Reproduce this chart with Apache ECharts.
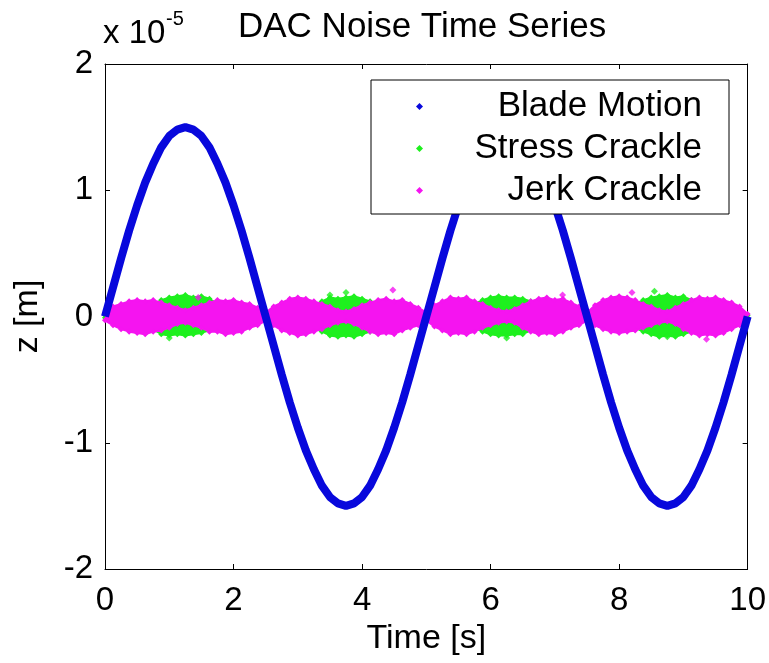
<!DOCTYPE html>
<html>
<head>
<meta charset="utf-8">
<title>DAC Noise Time Series</title>
<script src="https://cdn.jsdelivr.net/npm/echarts@6/dist/echarts.min.js"></script>
<style>
  html, body { margin: 0; padding: 0; background: #fff; }
  #chart { width: 769px; height: 663px; }
</style>
</head>
<body>
<div id="chart"></div>
<script>
// all z values in units of 1e-5 m, sampled every 0.125 s from 0 to 10 s
const time = Array.from({ length: 81 }, (_, i) => i * 0.125);

const bladeZ = [
  0, 0.23, 0.46, 0.68, 0.88, 1.06, 1.21, 1.34, 1.43, 1.48, 1.50, 1.48, 1.43, 1.34, 1.21, 1.06, 0.88, 0.68, 0.46, 0.23,
  0, -0.23, -0.46, -0.68, -0.88, -1.06, -1.21, -1.34, -1.43, -1.48, -1.50, -1.48, -1.43, -1.34, -1.21, -1.06, -0.88, -0.68, -0.46, -0.23,
  0, 0.23, 0.46, 0.68, 0.88, 1.06, 1.21, 1.34, 1.43, 1.48, 1.50, 1.48, 1.43, 1.34, 1.21, 1.06, 0.88, 0.68, 0.46, 0.23,
  0, -0.23, -0.46, -0.68, -0.88, -1.06, -1.21, -1.34, -1.43, -1.48, -1.50, -1.48, -1.43, -1.34, -1.21, -1.06, -0.88, -0.68, -0.46, -0.23,
  0
];

// envelope of the stress crackle cloud (top / bottom edge)
const stressUpper = [
  0.01, 0.02, 0.03, 0.04, 0.05, 0.07, 0.09, 0.13, 0.15, 0.16, 0.17, 0.15, 0.16, 0.14, 0.10, 0.07, 0.05, 0.03, 0.02, 0.02,
  0.01, 0.02, 0.03, 0.04, 0.05, 0.07, 0.09, 0.12, 0.15, 0.14, 0.15, 0.16, 0.14, 0.12, 0.09, 0.06, 0.05, 0.04, 0.03, 0.02,
  0.01, 0.02, 0.03, 0.04, 0.05, 0.07, 0.10, 0.13, 0.15, 0.16, 0.15, 0.15, 0.14, 0.12, 0.09, 0.06, 0.05, 0.04, 0.03, 0.02,
  0.01, 0.02, 0.03, 0.04, 0.05, 0.07, 0.10, 0.13, 0.15, 0.16, 0.17, 0.15, 0.16, 0.13, 0.10, 0.07, 0.05, 0.04, 0.03, 0.02,
  0.01
];
const stressLower = [
  -0.01, -0.02, -0.03, -0.04, -0.05, -0.07, -0.10, -0.14, -0.15, -0.14, -0.15, -0.14, -0.13, -0.11, -0.08, -0.06, -0.04, -0.03, -0.02, -0.02,
  -0.01, -0.02, -0.03, -0.04, -0.05, -0.07, -0.09, -0.12, -0.15, -0.16, -0.15, -0.16, -0.14, -0.12, -0.09, -0.06, -0.05, -0.04, -0.03, -0.02,
  -0.01, -0.02, -0.03, -0.04, -0.05, -0.07, -0.09, -0.12, -0.14, -0.15, -0.15, -0.14, -0.14, -0.11, -0.08, -0.06, -0.05, -0.04, -0.03, -0.02,
  -0.01, -0.02, -0.03, -0.04, -0.05, -0.07, -0.09, -0.12, -0.14, -0.16, -0.15, -0.16, -0.14, -0.12, -0.09, -0.07, -0.05, -0.04, -0.03, -0.02,
  -0.01
];

// envelope of the jerk crackle cloud
const jerkUpper = [
  0.03, 0.08, 0.10, 0.12, 0.13, 0.12, 0.13, 0.11, 0.09, 0.07, 0.05, 0.07, 0.09, 0.11, 0.13, 0.12, 0.13, 0.11, 0.10, 0.07,
  0.03, 0.08, 0.11, 0.14, 0.15, 0.14, 0.12, 0.10, 0.08, 0.05, 0.04, 0.06, 0.09, 0.11, 0.13, 0.14, 0.12, 0.13, 0.10, 0.07,
  0.03, 0.09, 0.12, 0.15, 0.14, 0.15, 0.12, 0.10, 0.07, 0.05, 0.04, 0.06, 0.09, 0.12, 0.14, 0.15, 0.13, 0.14, 0.11, 0.08,
  0.03, 0.09, 0.13, 0.15, 0.16, 0.15, 0.13, 0.10, 0.08, 0.05, 0.04, 0.07, 0.10, 0.13, 0.15, 0.14, 0.15, 0.13, 0.11, 0.08,
  0.02
];
const jerkLower = [
  -0.03, -0.07, -0.10, -0.12, -0.13, -0.14, -0.12, -0.11, -0.09, -0.06, -0.05, -0.07, -0.09, -0.12, -0.12, -0.14, -0.13, -0.12, -0.09, -0.07,
  -0.03, -0.07, -0.11, -0.13, -0.15, -0.14, -0.12, -0.10, -0.07, -0.05, -0.04, -0.06, -0.09, -0.12, -0.14, -0.13, -0.14, -0.11, -0.09, -0.07,
  -0.03, -0.08, -0.11, -0.14, -0.13, -0.14, -0.12, -0.09, -0.07, -0.05, -0.04, -0.05, -0.09, -0.12, -0.14, -0.13, -0.14, -0.12, -0.09, -0.07,
  -0.03, -0.07, -0.10, -0.12, -0.13, -0.12, -0.11, -0.09, -0.07, -0.05, -0.04, -0.06, -0.10, -0.13, -0.15, -0.14, -0.15, -0.13, -0.10, -0.07,
  -0.02
];

// stray points sticking out of the clouds [t, z]
const stressSpikes = [[1.0, -0.17], [3.5, 0.17], [3.75, 0.19], [6.25, -0.17], [8.55, 0.20], [8.75, -0.16]];
const jerkSpikes = [[4.48, 0.21], [7.12, 0.17], [8.2, 0.19], [9.36, -0.18], [1.45, 0.15]];

const BLUE = '#0808dc';
const GREEN = '#1ef01e';
const MAGENTA = '#f514f0';
const FONT = '"Liberation Sans", Arial, sans-serif';

function pairs(ys) {
  return time.map((t, i) => [t, ys[i]]);
}

// a cloud half drawn as an area from the zero line out to its edge
function band(name, ys, color, z, origin) {
  return {
    name: name,
    type: 'line',
    data: pairs(ys),
    showSymbol: true,
    showAllSymbol: true,
    symbol: 'diamond',
    symbolSize: 6,
    z: z,
    color: color,
    itemStyle: { color: color },
    lineStyle: { color: color, width: 2 },
    areaStyle: { color: color, opacity: 1, origin: origin },
    silent: true
  };
}

let myChart = echarts.init(document.getElementById('chart'), null, { renderer: 'canvas' });

const axisCommon = {
  type: 'value',
  axisLine: { show: true, onZero: false, lineStyle: { color: '#000', width: 1 } },
  axisTick: { show: true, inside: true, length: 5, lineStyle: { color: '#000' } },
  splitLine: { show: false }
};

myChart.setOption({
  animation: false,
  backgroundColor: '#fff',
  textStyle: { fontFamily: FONT },
  title: {
    text: 'DAC Noise Time Series',
    left: 233,
    top: 5,
    textStyle: { fontFamily: FONT, fontSize: 35, fontWeight: 'normal', color: '#000' }
  },
  grid: { left: 105, right: 21, top: 64, bottom: 94 },
  legend: {
    orient: 'vertical',
    left: 371,
    top: 80,
    z: 10,
    padding: [9, 27, 6, 45],
    itemGap: 7,
    itemWidth: 7,
    itemHeight: 7,
    borderColor: '#000',
    borderWidth: 1,
    backgroundColor: '#fff',
    data: [
      { name: 'Blade Motion', icon: 'diamond' },
      { name: 'Stress Crackle', icon: 'diamond' },
      { name: 'Jerk Crackle', icon: 'diamond' }
    ],
    formatter: name => '{a|' + name + '}',
    textStyle: {
      rich: {
        a: { width: 274, align: 'right', fontSize: 35, lineHeight: 35, color: '#000', fontFamily: FONT }
      }
    }
  },
  xAxis: [
    Object.assign({}, axisCommon, {
      min: 0, max: 10, interval: 2,
      position: 'bottom',
      name: 'Time [s]',
      nameLocation: 'middle',
      nameGap: 52,
      nameTextStyle: { fontSize: 34, color: '#000', fontFamily: FONT },
      axisLabel: { fontSize: 33, color: '#000', margin: 15, fontFamily: FONT }
    }),
    Object.assign({}, axisCommon, {
      min: 0, max: 10, interval: 2,
      position: 'top',
      axisLabel: { show: false }
    })
  ],
  yAxis: [
    Object.assign({}, axisCommon, {
      min: -2, max: 2, interval: 1,
      position: 'left',
      name: 'z [m]',
      nameLocation: 'middle',
      nameRotate: 90,
      nameGap: 60,
      nameTextStyle: { fontSize: 34, color: '#000', fontFamily: FONT },
      axisLabel: { fontSize: 33, color: '#000', margin: 12, fontFamily: FONT }
    }),
    Object.assign({}, axisCommon, {
      min: -2, max: 2, interval: 1,
      position: 'right',
      axisLabel: { show: false }
    })
  ],
  graphic: [
    {
      type: 'text', left: 103, top: 17,
      style: { text: 'x 10', font: '33px ' + FONT, fill: '#000' }
    },
    {
      type: 'text', left: 166, top: 9,
      style: { text: '-5', font: '20px ' + FONT, fill: '#000' }
    }
  ],
  series: [
    {
      name: 'Blade Motion',
      type: 'line',
      data: pairs(bladeZ),
      showSymbol: false,
      z: 5,
      color: BLUE,
      lineStyle: { color: BLUE, width: 8 },
      silent: true
    },
    band('Stress Crackle', stressUpper, GREEN, 2, -0.02),
    band('Stress Crackle', stressLower, GREEN, 2, 0.02),
    {
      name: 'Stress Crackle',
      type: 'scatter',
      data: stressSpikes,
      symbol: 'diamond',
      symbolSize: 7,
      z: 2,
      itemStyle: { color: GREEN }
    },
    band('Jerk Crackle', jerkUpper, MAGENTA, 3, -0.02),
    band('Jerk Crackle', jerkLower, MAGENTA, 3, 0.02),
    {
      name: 'Jerk Crackle',
      type: 'scatter',
      data: jerkSpikes,
      symbol: 'diamond',
      symbolSize: 7,
      z: 3,
      itemStyle: { color: MAGENTA }
    }
  ]
});
</script>
</body>
</html>
